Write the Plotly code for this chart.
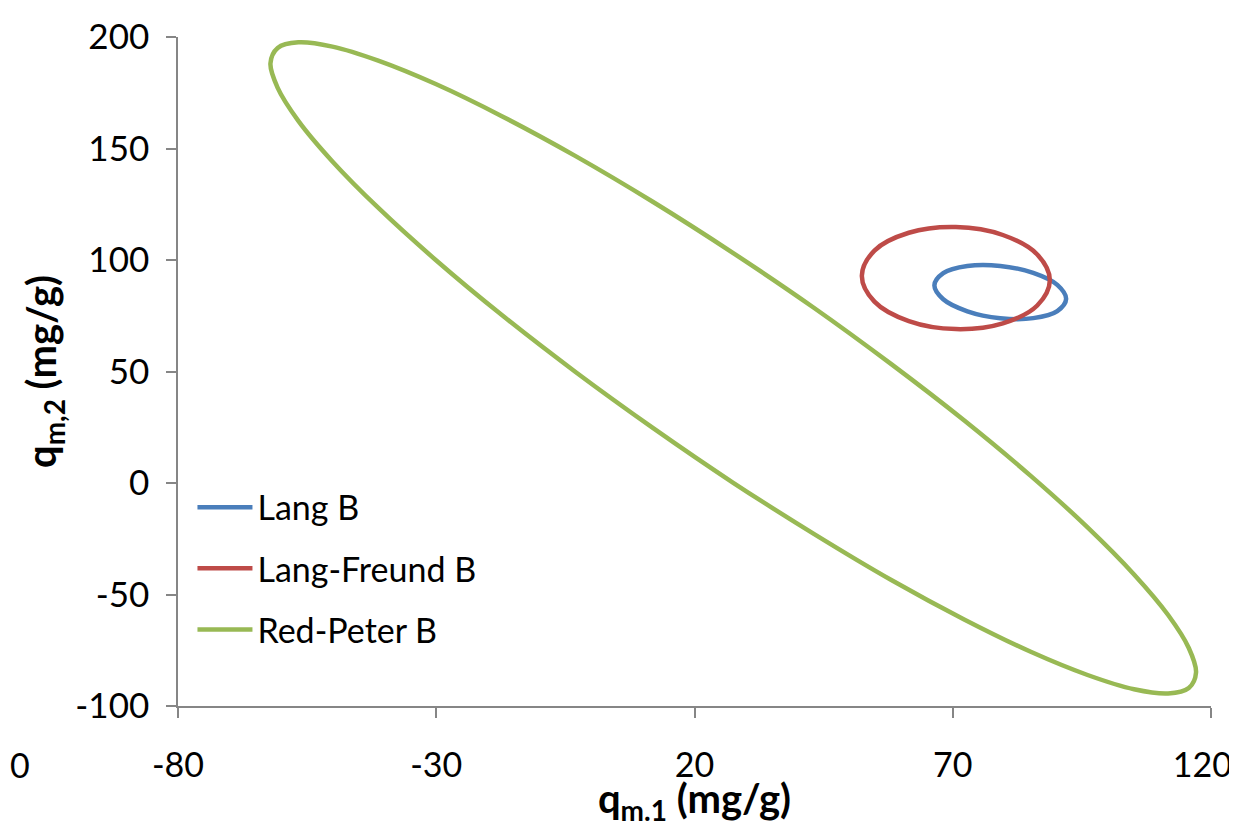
import plotly.graph_objects as go

# ---- data (q_m,1 , q_m,2 in mg/g) ----
lang_x = [91.95, 90.24, 85.58, 79.20, 72.83, 68.16, 66.45, 68.16, 72.83, 79.20, 85.58, 90.24, 91.95]
lang_y = [82.55, 88.82, 94.21, 97.31, 97.27, 94.10, 88.65, 82.38, 76.99, 73.89, 73.93, 77.10, 82.55]

lf_x = [88.80, 86.36, 79.70, 70.60, 61.50, 54.84, 52.40, 54.84, 61.50, 70.60, 79.70, 86.36, 88.80]
lf_y = [90.90, 102.47, 111.21, 114.78, 112.21, 104.21, 92.90, 81.33, 72.59, 69.02, 71.59, 79.59, 90.90]

rp_x = [117.1, 115.7, 111.7, 105.1, 96.1, 85.1, 72.3, 58.1, 43.1, 27.5, 12.0, -3.1, -17.3,
        -30.1, -41.1, -50.1, -56.7, -60.7, -62.1, -60.7, -56.7, -50.1, -41.1, -30.1, -17.3,
        -3.1, 12.0, 27.5, 43.1, 58.1, 72.3, 85.1, 96.1, 105.1, 111.7, 115.7, 117.1]
rp_y = [-85.0, -74.0, -59.2, -41.0, -19.9, 3.2, 27.9, 53.3, 78.6, 103.1, 126.0, 146.7, 164.5,
        178.9, 189.3, 195.7, 197.6, 195.1, 188.2, 177.2, 162.4, 144.2, 123.1, 100.0, 75.3,
        49.9, 24.6, 0.1, -22.8, -43.5, -61.3, -75.7, -86.1, -92.5, -94.4, -91.9, -85.0]

series_names = ["Lang B", "Lang-Freund B", "Red-Peter B"]
series_colors = ["#4A7EBB", "#BE4B48", "#98B954"]

x_ticks = [-80, -30, 20, 70, 120]
y_ticks = [-100, -50, 0, 50, 100, 150, 200]

FONT = "Lato, Carlito, Calibri, 'Open Sans', sans-serif"

fig = go.Figure()
for name, xs, ys, col in zip(series_names, [lang_x, lf_x, rp_x], [lang_y, lf_y, rp_y], series_colors):
    fig.add_trace(go.Scatter(x=xs, y=ys, mode="lines", name=name, legendgroup=name,
                             line=dict(color=col, width=4.5, shape="spline", smoothing=1.0)))

axis_common = dict(showline=True, linecolor="#868686", linewidth=1.5, ticks="outside",
                   tickcolor="#868686", ticklen=10, tickwidth=1.5, showgrid=False, zeroline=False,
                   automargin=False, ticklabeloverflow="allow")

# last x label gets trailing no-break spaces so it stays inside the window
x_ticktext = [str(v) for v in x_ticks]
x_ticktext[-1] = x_ticktext[-1] + "\u00a0\u00a0"

fig.update_xaxes(range=[-80, 120], tickvals=x_ticks, ticktext=x_ticktext,
                 ticklabelstandoff=18, tickfont=dict(family=FONT, size=34, color="#000000"),
                 title=dict(text="<b>q<sub>m.1</sub> (mg/g)</b>", font=dict(family=FONT, size=40, color="#000"),
                            standoff=10),
                 **axis_common)
fig.update_yaxes(range=[-100, 200], tickvals=y_ticks, ticktext=[str(v) for v in y_ticks],
                 ticklabelstandoff=10, tickfont=dict(family=FONT, size=35, color="#000000"),
                 title=dict(text="<b>q<sub>m,2</sub> (mg/g)</b>", font=dict(family=FONT, size=40, color="#000"),
                            standoff=6),
                 **axis_common)

fig.add_annotation(text="0", xref="paper", yref="paper", x=-0.1646, y=-0.088, showarrow=False,
                   xanchor="left", yanchor="middle", font=dict(family=FONT, size=34, color="#000"))

# the page adds an 8 px body margin, so the figure is sized 8 px smaller
fig.update_layout(
    width=1229, height=819,
    margin=dict(l=170, r=26, t=29, b=121),
    paper_bgcolor="white", plot_bgcolor="white",
    font=dict(family=FONT, color="#000"),
    legend=dict(x=0.014, y=0.34, xanchor="left", yanchor="top", bgcolor="rgba(0,0,0,0)",
                font=dict(family=FONT, size=34, color="#000"), itemwidth=55, tracegroupgap=14),
    showlegend=True,
)

fig.write_html("out.html")
